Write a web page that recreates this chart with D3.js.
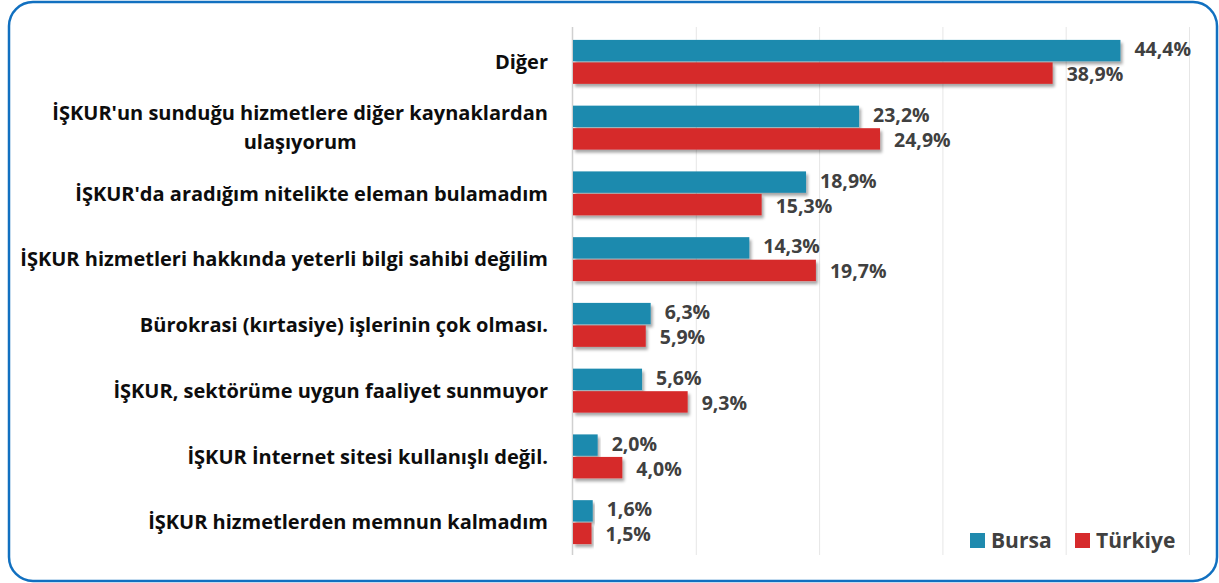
<!DOCTYPE html>
<html>
<head>
<meta charset="utf-8">
<script src="https://cdn.jsdelivr.net/npm/d3@7"></script>
<style>
  body { margin: 0; background: #fff; }
  svg { display: block; font-family: "Open Sans", "Noto Sans", sans-serif; }
</style>
</head>
<body>
<svg id="chart_svg" width="1219" height="583"></svg>
<script>
// categories, top to bottom
const categories = [
  "Diğer",
  "İŞKUR'un sunduğu hizmetlere diğer kaynaklardan|ulaşıyorum",
  "İŞKUR'da aradığım nitelikte eleman bulamadım",
  "İŞKUR hizmetleri hakkında yeterli bilgi sahibi değilim",
  "Bürokrasi (kırtasiye) işlerinin çok olması.",
  "İŞKUR, sektörüme uygun faaliyet sunmuyor",
  "İŞKUR İnternet sitesi kullanışlı değil.",
  "İŞKUR hizmetlerden memnun kalmadım"
];
const seriesNames = ["Bursa", "Türkiye"];
const bursa = [44.4, 23.2, 18.9, 14.3, 6.3, 5.6, 2.0, 1.6];
const turkiye = [38.9, 24.9, 15.3, 19.7, 5.9, 9.3, 4.0, 1.5];
const xTicks = [0, 10, 20, 30, 40, 50];

const colors = { "Bursa": "#1f8aae", "Türkiye": "#d62a2c" };

const data = categories.map((c, i) => ({
  category: c,
  values: [
    { series: "Bursa", value: bursa[i] },
    { series: "Türkiye", value: turkiye[i] }
  ]
}));

const svg = d3.select("#chart_svg");
const W = 1219, H = 583;

// frame
svg.append("rect")
  .attr("x", 9).attr("y", 2)
  .attr("width", W - 11).attr("height", H - 4)
  .attr("rx", 24).attr("ry", 24)
  .attr("fill", "#fff")
  .attr("stroke", "#1170c0")
  .attr("stroke-width", 2.5);

// soft shadow under the bars
const defs = svg.append("defs");
const f = defs.append("filter").attr("id", "shadow")
  .attr("x", "-5%").attr("y", "-30%").attr("width", "115%").attr("height", "180%");
f.append("feDropShadow")
  .attr("dx", 2).attr("dy", 3).attr("stdDeviation", 1.6)
  .attr("flood-color", "#000").attr("flood-opacity", 0.35);

const margin = { left: 573, top: 29 };
const plotW = 616.5, plotH = 526;

const xScale = d3.scaleLinear().domain([0, 50]).range([margin.left, margin.left + plotW]);
const yScale = d3.scaleBand().domain(categories).range([margin.top, margin.top + plotH]).padding(0);
const ySub = d3.scaleBand().domain(seriesNames)
  .range([10.9, yScale.bandwidth() - 10.9]).paddingInner(0.05);

// gridlines
const g_grid = svg.append("g");
g_grid.selectAll("line").data(xTicks.slice(1)).enter().append("line")
  .attr("x1", d => xScale(d)).attr("x2", d => xScale(d))
  .attr("y1", margin.top - 2).attr("y2", margin.top + plotH)
  .attr("stroke", "#e6e6e6").attr("stroke-width", 1);

// axis line
const y_axis = d3.axisLeft(yScale).tickSize(0).tickFormat("");
svg.append("g")
  .attr("transform", "translate(" + (margin.left - 0.5) + ",0)")
  .call(y_axis)
  .call(g => g.select(".domain").attr("stroke", "#d0d0d0").attr("stroke-width", 1.5)
    .attr("d", "M0," + (margin.top - 2) + "V" + (margin.top + plotH)));

// bars
const g_bars = svg.append("g");
const groups = g_bars.selectAll(".cat").data(data).enter().append("g")
  .attr("class", "cat")
  .attr("transform", d => "translate(0," + yScale(d.category) + ")");

groups.selectAll("rect").data(d => d.values).enter().append("rect")
  .attr("x", xScale(0))
  .attr("y", d => ySub(d.series))
  .attr("width", d => xScale(d.value) - xScale(0))
  .attr("height", ySub.bandwidth())
  .attr("fill", d => colors[d.series])
  .attr("filter", "url(#shadow)");

// value labels, nudged apart a little so the pair does not collide
const fmt = v => v.toFixed(1).replace(".", ",") + "%";
const nudge = { "Bursa": -1.5, "Türkiye": 1 };
groups.selectAll(".val").data(d => d.values).enter().append("text")
  .attr("class", "val")
  .attr("x", d => xScale(d.value) + 14)
  .attr("y", d => ySub(d.series) + ySub.bandwidth() / 2 + nudge[d.series])
  .attr("dy", "0.36em")
  .attr("font-size", 19.5)
  .attr("font-weight", 700)
  .attr("fill", "#404040")
  .text(d => fmt(d.value));

// category labels
const labelRight = 548;
const g_labels = svg.append("g");
const labels = g_labels.selectAll("text").data(categories).enter().append("text")
  .attr("font-size", 20)
  .attr("font-weight", 700)
  .attr("fill", "#0d0d0d")
  .attr("text-anchor", "end")
  .attr("y", d => yScale(d) + yScale.bandwidth() / 2);

labels.each(function(d) {
  const lines = d.split("|");
  const t = d3.select(this);
  if (lines.length === 1) {
    t.append("tspan").attr("x", labelRight).attr("dy", "0.36em").text(lines[0]);
  } else {
    t.attr("text-anchor", "middle");
    lines.forEach((ln, i) => {
      t.append("tspan").attr("x", 0)
        .attr("dy", i === 0 ? (0.36 - 0.72) + "em" : "1.44em")
        .text(ln);
    });
  }
});

// centre two-line labels on the width of their longest line
labels.each(function(d) {
  const lines = d.split("|");
  if (lines.length > 1) {
    const t = d3.select(this);
    const w = d3.max(t.selectAll("tspan").nodes(), n => n.getComputedTextLength());
    t.selectAll("tspan").attr("x", labelRight - w / 2);
  }
});

// legend
const g_legend = svg.append("g").attr("transform", "translate(970,533)");
const legendX = [0, 105];
seriesNames.forEach((s, i) => {
  g_legend.append("rect")
    .attr("x", legendX[i]).attr("y", 0)
    .attr("width", 15).attr("height", 15)
    .attr("fill", colors[s]);
  g_legend.append("text")
    .attr("x", legendX[i] + 21).attr("y", 7.5).attr("dy", "0.36em")
    .attr("font-size", 21).attr("font-weight", 700).attr("fill", "#404040")
    .text(s);
});
</script>
</body>
</html>
